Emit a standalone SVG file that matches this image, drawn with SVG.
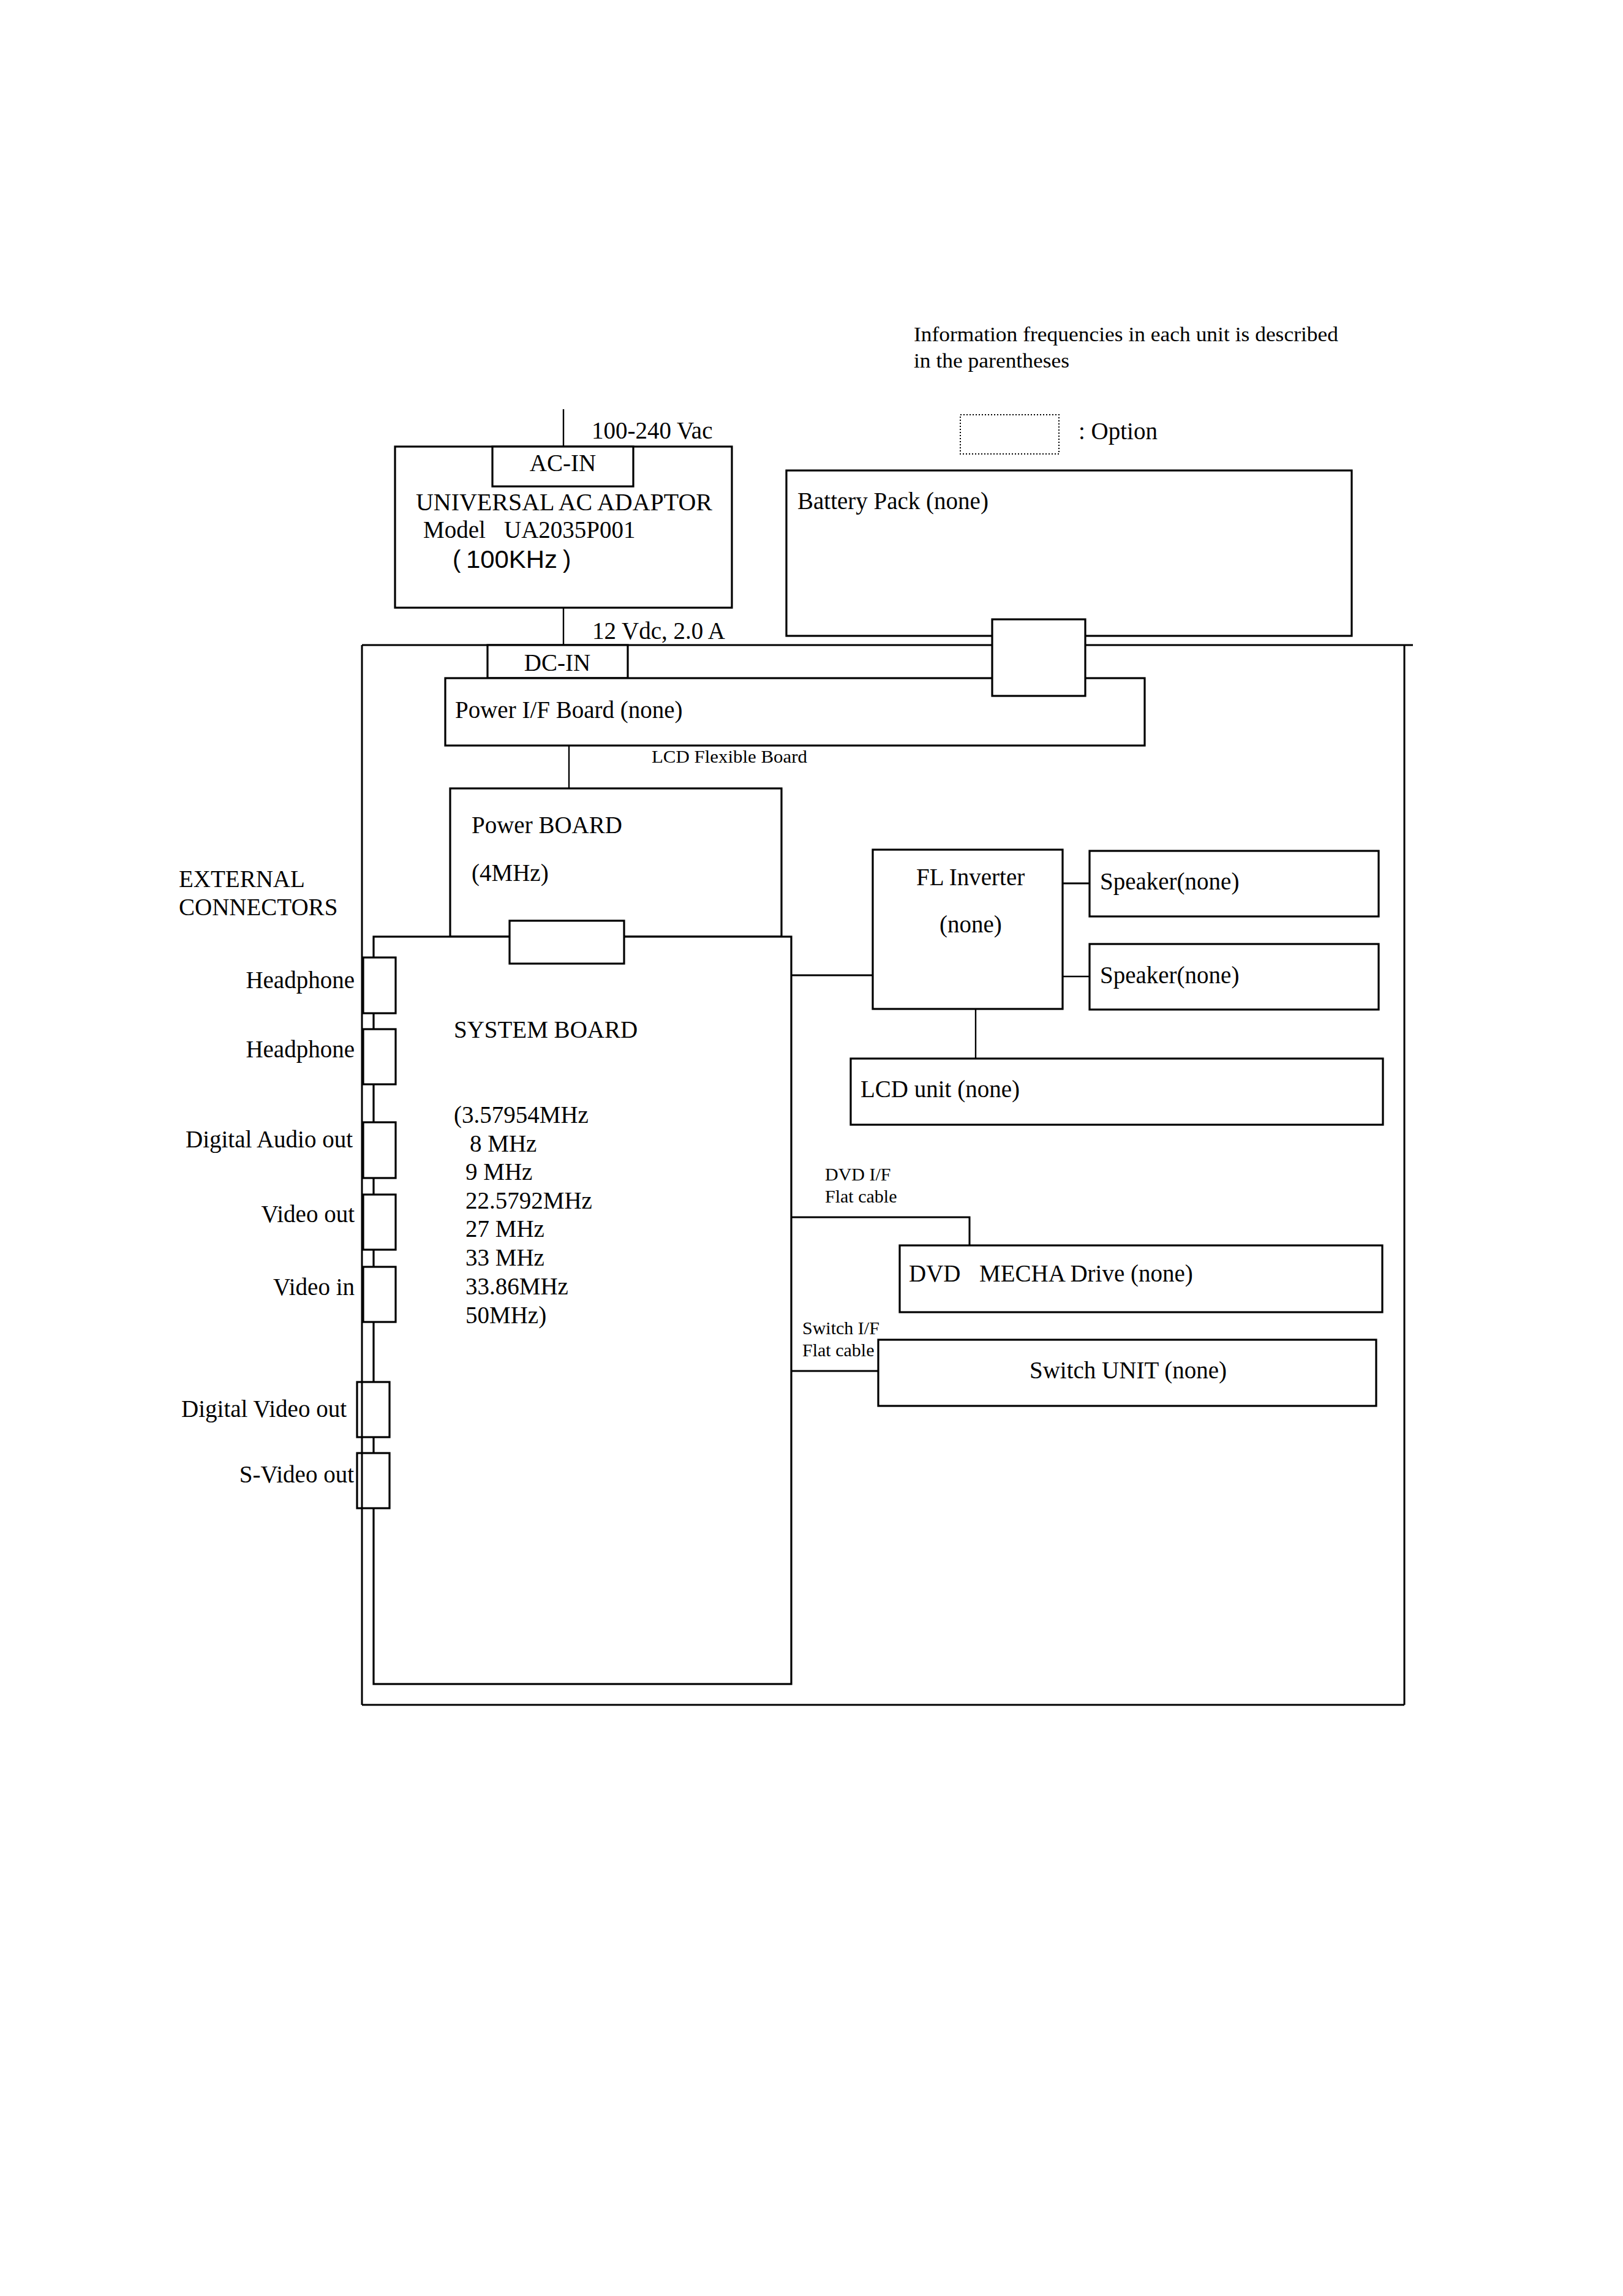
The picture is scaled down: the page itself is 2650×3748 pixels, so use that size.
<svg xmlns="http://www.w3.org/2000/svg" width="2650" height="3748" viewBox="0 0 2650 3748">
<style>
.bg{fill:#fff}
.box{fill:#fff;stroke:#000;stroke-width:3.2}
.nofill{fill:none;stroke:#000;stroke-width:3.2}
.ln{fill:none;stroke:#000;stroke-width:3}
.thin{fill:none;stroke:#000;stroke-width:2.4}
.opt{fill:none;stroke:#000;stroke-width:2;stroke-dasharray:2 3}
.t{font-family:"Liberation Serif","Times New Roman",serif;font-size:39px;fill:#000}
.s{font-size:30px}
.i{font-size:34px}
.e{text-anchor:end}
.sans{font-family:"Liberation Sans",Arial,sans-serif;font-size:40px;fill:#000}
</style>
<rect class="bg" x="0" y="0" width="2650" height="3748"/>

<g id="legend">
  <text class="t i" x="1492" y="557" textLength="693" lengthAdjust="spacingAndGlyphs">Information frequencies in each unit is described</text>
  <text class="t i" x="1492" y="600" textLength="254" lengthAdjust="spacingAndGlyphs">in the parentheses</text>
  <rect class="opt" x="1568" y="677" width="161" height="64"/>
  <text class="t" x="1761" y="717">: Option</text>
</g>

<g id="outer-frame">
  <path class="ln" d="M591,1053 H2307 M2293,1053 V2783 M591,2783 H2293"/>
</g>

<g id="connectors">
  <line class="thin" x1="920" y1="668" x2="920" y2="729"/>
  <line class="thin" x1="920" y1="992" x2="920" y2="1053"/>
  <line class="thin" x1="929" y1="1217" x2="929" y2="1287"/>
  <line class="ln" x1="1292" y1="1592" x2="1425" y2="1592"/>
  <line class="ln" x1="1735" y1="1442" x2="1779" y2="1442"/>
  <line class="thin" x1="1735" y1="1594" x2="1779" y2="1594"/>
  <line class="thin" x1="1593" y1="1647" x2="1593" y2="1728"/>
  <path class="ln" d="M1292,1987 H1583 V2033"/>
  <line class="ln" x1="1292" y1="2238" x2="1434" y2="2238"/>
</g>

<g id="ac-adaptor">
  <rect class="box" x="645" y="729" width="550" height="263"/>
  <text class="t" x="679" y="833" textLength="484" lengthAdjust="spacingAndGlyphs">UNIVERSAL AC ADAPTOR</text>
  <text class="t" x="691" y="878">Model</text>
  <text class="t" x="823" y="878">UA2035P001</text>
  <text class="sans" y="927"><tspan x="739">(</tspan><tspan x="761" textLength="149" lengthAdjust="spacingAndGlyphs">100KHz</tspan><tspan x="919">)</tspan></text>
  <text class="t" x="966" y="716">100-240 Vac</text>
  <text class="t" x="967" y="1043">12 Vdc, 2.0 A</text>
</g>
<g id="ac-in">
  <rect class="box" x="804" y="729" width="230" height="65"/>
  <text class="t" x="919" y="769" text-anchor="middle">AC-IN</text>
</g>

<g id="battery-pack">
  <rect class="box" x="1284" y="768" width="923" height="270"/>
  <text class="t" x="1302" y="831">Battery Pack (none)</text>
</g>

<g id="dc-in">
  <rect class="box" x="796" y="1053" width="229" height="54"/>
  <text class="t" x="910" y="1095" text-anchor="middle">DC-IN</text>
</g>

<g id="power-if-board">
  <rect class="box" x="727" y="1107" width="1142" height="110"/>
  <text class="t" x="743" y="1172">Power I/F Board (none)</text>
  <text class="t s" x="1064" y="1245" textLength="254" lengthAdjust="spacingAndGlyphs">LCD Flexible Board</text>
</g>

<g id="battery-connector">
  <rect class="box" x="1620" y="1011" width="152" height="125"/>
</g>

<g id="power-board">
  <rect class="box" x="735" y="1287" width="541" height="242"/>
  <text class="t" x="770" y="1360">Power BOARD</text>
  <text class="t" x="770" y="1438">(4MHz)</text>
</g>

<g id="system-board">
  <rect class="box" x="610" y="1529" width="682" height="1220"/>
  <text class="t" x="741" y="1694">SYSTEM BOARD</text>
  <text class="t" x="741" y="1833">(3.57954MHz</text>
  <text class="t" x="767" y="1880">8 MHz</text>
  <text class="t" x="760" y="1926">9 MHz</text>
  <text class="t" x="760" y="1973">22.5792MHz</text>
  <text class="t" x="760" y="2019">27 MHz</text>
  <text class="t" x="760" y="2066">33 MHz</text>
  <text class="t" x="760" y="2113">33.86MHz</text>
  <text class="t" x="760" y="2160">50MHz)</text>
</g>

<g id="board-connector">
  <rect class="box" x="832" y="1503" width="187" height="70"/>
</g>

<g id="external-connectors">
  <text class="t" x="292" y="1448">EXTERNAL</text>
  <text class="t" x="292" y="1494">CONNECTORS</text>
</g>
<g id="headphone-1">
  <rect class="box" x="593" y="1563" width="53" height="91"/>
  <text class="t e" x="579" y="1613">Headphone</text>
</g>
<g id="headphone-2">
  <rect class="box" x="593" y="1680" width="53" height="90"/>
  <text class="t e" x="579" y="1726">Headphone</text>
</g>
<g id="digital-audio-out">
  <rect class="box" x="593" y="1832" width="53" height="91"/>
  <text class="t e" x="576" y="1873">Digital Audio out</text>
</g>
<g id="video-out">
  <rect class="box" x="593" y="1950" width="53" height="90"/>
  <text class="t e" x="579" y="1995">Video out</text>
</g>
<g id="video-in">
  <rect class="box" x="593" y="2068" width="53" height="90"/>
  <text class="t e" x="579" y="2114">Video in</text>
</g>
<g id="digital-video-out">
  <rect class="box" x="583" y="2256" width="53" height="90"/>
  <text class="t e" x="566" y="2313">Digital Video out</text>
</g>
<g id="s-video-out">
  <rect class="box" x="583" y="2372" width="53" height="90"/>
  <text class="t e" x="578" y="2420">S-Video out</text>
</g>
<g id="outer-frame-left">
  <line class="ln" x1="591" y1="1053" x2="591" y2="2783"/>
</g>

<g id="fl-inverter">
  <rect class="box" x="1425" y="1387" width="310" height="260"/>
  <text class="t" x="1496" y="1445">FL Inverter</text>
  <text class="t" x="1534" y="1522">(none)</text>
</g>
<g id="speaker-1">
  <rect class="box" x="1779" y="1389" width="472" height="107"/>
  <text class="t" x="1796" y="1452">Speaker(none)</text>
</g>
<g id="speaker-2">
  <rect class="box" x="1779" y="1541" width="472" height="107"/>
  <text class="t" x="1796" y="1605">Speaker(none)</text>
</g>
<g id="lcd-unit">
  <rect class="box" x="1389" y="1728" width="869" height="108"/>
  <text class="t" x="1405" y="1791">LCD unit (none)</text>
</g>
<g id="dvd-if-label">
  <text class="t s" x="1347" y="1927">DVD I/F</text>
  <text class="t s" x="1347" y="1963">Flat cable</text>
</g>
<g id="dvd-mecha-drive">
  <rect class="box" x="1469" y="2033" width="788" height="109"/>
  <text class="t" x="1484" y="2092">DVD</text>
  <text class="t" x="1599" y="2092">MECHA Drive (none)</text>
</g>
<g id="switch-if-label">
  <text class="t s" x="1310" y="2178">Switch I/F</text>
  <text class="t s" x="1310" y="2214">Flat cable</text>
</g>
<g id="switch-unit">
  <rect class="box" x="1434" y="2187" width="813" height="108"/>
  <text class="t" x="1681" y="2250">Switch UNIT (none)</text>
</g>
</svg>
